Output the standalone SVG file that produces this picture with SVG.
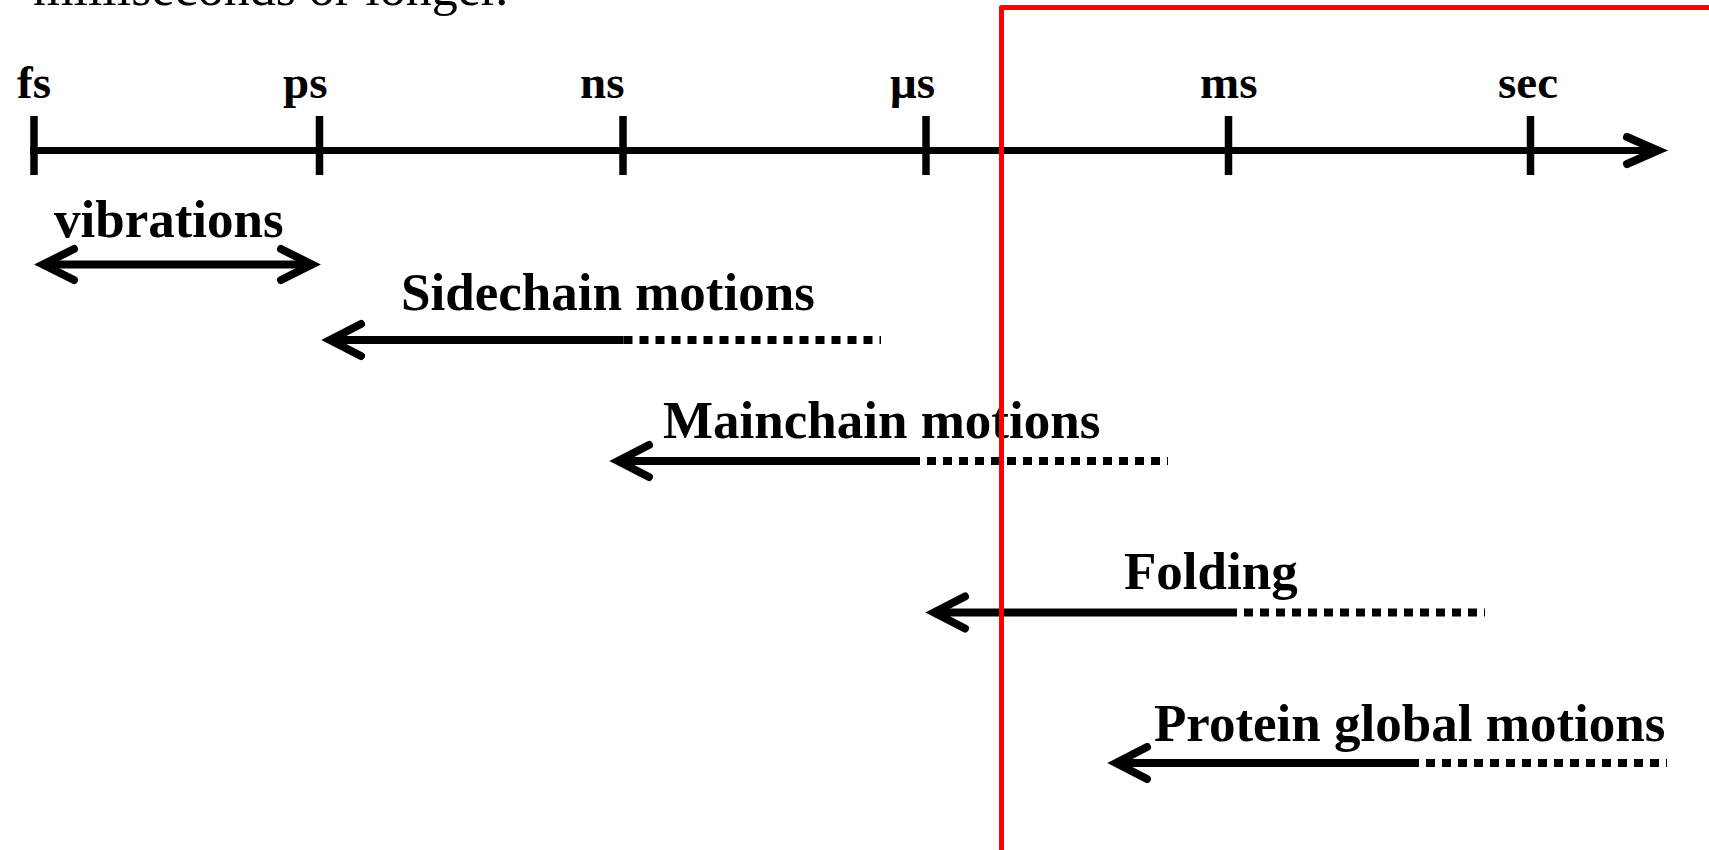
<svg xmlns="http://www.w3.org/2000/svg" width="1709" height="850" viewBox="0 0 1709 850">
  <style>
    .caption { font-family: "Liberation Serif", "Times New Roman", serif; font-size: 52px; fill: #000; }
    .tick-label { font-family: "Liberation Serif", "Times New Roman", serif; font-size: 47px; font-weight: bold; fill: #000; }
    .label { font-family: "Liberation Serif", "Times New Roman", serif; font-size: 53px; font-weight: bold; fill: #000; }
    .axis { stroke: #000; stroke-width: 7; fill: none; }
    .tick { stroke: #000; stroke-width: 7.5; fill: none; }
    .head { stroke: #000; stroke-width: 8; fill: none; stroke-linecap: round; stroke-linejoin: miter; }
    .solid { stroke: #000; stroke-width: 8; fill: none; stroke-linecap: butt; }
    .dotted { stroke: #000; stroke-width: 8; fill: none; stroke-dasharray: 9 7; }
    .frame { stroke: #ff0000; stroke-width: 5; fill: none; stroke-linejoin: round; }
  </style>

  <rect width="1709" height="850" fill="#fff"/>

  <!-- caption line running off the top edge -->
  <text class="caption" x="33" y="4.5">milliseconds or longer.</text>

  <!-- time axis -->
  <g id="time-axis">
    <line class="axis" x1="30" y1="150.5" x2="1655" y2="150.5"/>
    <path class="head" d="M1627,137 L1658,150.5 L1627,164"/>
    <line class="tick" x1="34" y1="116" x2="34" y2="175"/>
    <line class="tick" x1="319.5" y1="116" x2="319.5" y2="175"/>
    <line class="tick" x1="623" y1="116" x2="623" y2="175"/>
    <line class="tick" x1="926" y1="116" x2="926" y2="175"/>
    <line class="tick" x1="1228.5" y1="116" x2="1228.5" y2="175"/>
    <line class="tick" x1="1530.5" y1="116" x2="1530.5" y2="175"/>
    <text class="tick-label" x="17" y="98">fs</text>
    <text class="tick-label" x="283" y="98">ps</text>
    <text class="tick-label" x="580" y="98">ns</text>
    <text class="tick-label" x="890" y="98">μs</text>
    <text class="tick-label" x="1200" y="98">ms</text>
    <text class="tick-label" x="1498" y="98">sec</text>
  </g>

  <!-- motion labels -->
  <g id="vibrations"><text class="label" x="54" y="236.5">vibrations</text></g>
  <g id="sidechain"><text class="label" x="401" y="310">Sidechain motions</text></g>
  <g id="mainchain"><text class="label" x="663" y="438">Mainchain motions</text></g>
  <g id="folding"><text class="label" x="1124" y="588.5">Folding</text></g>
  <g id="global"><text class="label" x="1154" y="740.5">Protein global motions</text></g>

  <!-- time-range arrows: solid part is the typical range, dotted part the extension -->
  <g id="connectors">
    <line class="solid" x1="44" y1="264.5" x2="310" y2="264.5"/>
    <path class="head" d="M74,249 L43,264.5 L74,280"/>
    <path class="head" d="M281,249 L312,264.5 L281,280"/>

    <line class="solid" x1="331" y1="340" x2="623.5" y2="340"/>
    <line class="dotted" x1="623.5" y1="340" x2="881" y2="340"/>
    <path class="head" d="M361,324 L330,340 L361,356"/>

    <line class="solid" x1="619" y1="461" x2="911" y2="461"/>
    <line class="dotted" x1="911" y1="461" x2="1168" y2="461"/>
    <path class="head" d="M649,445 L618,461 L649,477"/>

    <line class="solid" x1="935" y1="612.5" x2="1228" y2="612.5"/>
    <line class="dotted" x1="1228" y1="612.5" x2="1485" y2="612.5"/>
    <path class="head" d="M965,596.5 L934,612.5 L965,628.5"/>

    <line class="solid" x1="1117" y1="763" x2="1410" y2="763"/>
    <line class="dotted" x1="1410" y1="763" x2="1667" y2="763"/>
    <path class="head" d="M1147,747 L1116,763 L1147,779"/>
  </g>

  <!-- highlight frame, open past the right and bottom edges -->
  <path class="frame" d="M1001.5,860 V7.5 H1720"/>
</svg>
